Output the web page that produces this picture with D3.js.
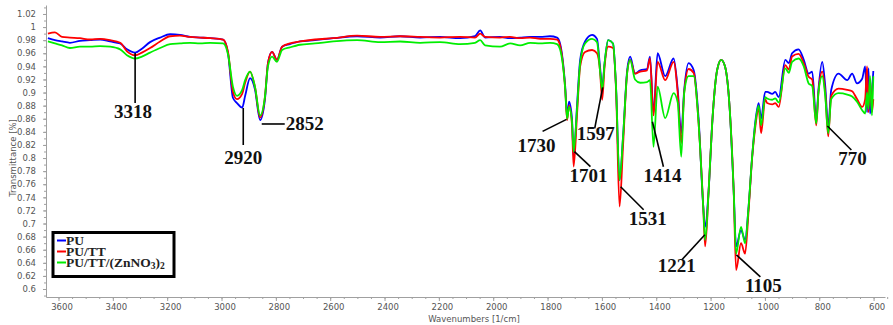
<!DOCTYPE html>
<html>
<head>
<meta charset="utf-8">
<script src="https://cdn.jsdelivr.net/npm/d3@7"></script>
<style>
  body { margin: 0; background: #fff; }
  svg { display: block; }
</style>
</head>
<body>
<svg id="chart" width="893" height="325"></svg>
<script>
// wavenumbers [1/cm] (shared by all three spectra)
const wavenumbers = [
  3639, 3613, 3587, 3558, 3521, 3484, 3447, 3410, 3373, 3348, 3318, 3293, 3263, 3226, 3189, 3153, 3116, 3079, 3042, 2994,
  2976, 2958, 2943, 2924, 2913, 2895, 2877, 2858, 2840, 2829, 2814, 2796, 2777, 2748, 2711, 2656, 2589, 2501, 2416, 2343,
  2269, 2196, 2122, 2067, 2048, 2030, 1975, 1938, 1901, 1864, 1827, 1791, 1765, 1754, 1735, 1728, 1721, 1710, 1704, 1691,
  1680, 1662, 1636, 1618, 1607, 1599, 1590, 1577, 1559, 1548, 1535, 1522, 1507, 1496, 1478, 1459, 1434, 1423, 1410, 1395,
  1367, 1336, 1321, 1308, 1297, 1281, 1262, 1244, 1227, 1220, 1207, 1194, 1176, 1161, 1147, 1130, 1115, 1106, 1088, 1073,
  1060, 1047, 1036, 1023, 1014, 999, 992, 973, 962, 949, 925, 912, 900, 876, 857, 839, 826, 811, 803, 789,
  778, 767, 756, 729, 697, 679, 661, 642, 631, 624, 619, 613, 606, 601
]

const puValues = [
  0.983, 0.980, 0.978, 0.976, 0.979, 0.980, 0.981, 0.978, 0.975, 0.966, 0.961, 0.967, 0.977, 0.984, 0.989, 0.988, 0.985, 0.984, 0.983, 0.981,
  0.960, 0.892, 0.884, 0.877, 0.895, 0.922, 0.905, 0.858, 0.890, 0.945, 0.962, 0.950, 0.970, 0.974, 0.978, 0.980, 0.983, 0.986, 0.984, 0.986,
  0.984, 0.985, 0.983, 0.986, 0.995, 0.984, 0.985, 0.983, 0.984, 0.985, 0.985, 0.986, 0.984, 0.975, 0.909, 0.865, 0.886, 0.860, 0.802, 0.884,
  0.950, 0.978, 0.988, 0.982, 0.940, 0.909, 0.945, 0.980, 0.975, 0.909, 0.766, 0.833, 0.934, 0.955, 0.929, 0.934, 0.936, 0.955, 0.869, 0.960,
  0.925, 0.952, 0.905, 0.838, 0.904, 0.945, 0.934, 0.860, 0.726, 0.695, 0.751, 0.853, 0.934, 0.950, 0.940, 0.878, 0.751, 0.665, 0.690, 0.675,
  0.726, 0.802, 0.853, 0.884, 0.860, 0.901, 0.901, 0.898, 0.901, 0.893, 0.950, 0.945, 0.960, 0.966, 0.950, 0.929, 0.932, 0.858, 0.904, 0.947,
  0.910, 0.848, 0.904, 0.929, 0.919, 0.929, 0.914, 0.921, 0.940, 0.870, 0.937, 0.868, 0.900, 0.933
]

const puTtValues = [
  0.990, 0.992, 0.985, 0.984, 0.983, 0.981, 0.982, 0.980, 0.976, 0.963, 0.957, 0.961, 0.968, 0.978, 0.986, 0.987, 0.985, 0.984, 0.983, 0.981,
  0.962, 0.901, 0.890, 0.898, 0.915, 0.932, 0.909, 0.862, 0.894, 0.945, 0.962, 0.950, 0.970, 0.975, 0.978, 0.981, 0.983, 0.987, 0.985, 0.986,
  0.985, 0.984, 0.985, 0.984, 0.990, 0.985, 0.984, 0.985, 0.983, 0.984, 0.982, 0.982, 0.981, 0.972, 0.905, 0.858, 0.880, 0.850, 0.787, 0.870,
  0.940, 0.962, 0.965, 0.960, 0.934, 0.889, 0.940, 0.970, 0.968, 0.905, 0.726, 0.820, 0.930, 0.950, 0.929, 0.932, 0.934, 0.952, 0.865, 0.947,
  0.919, 0.947, 0.900, 0.823, 0.900, 0.936, 0.930, 0.853, 0.726, 0.665, 0.751, 0.853, 0.934, 0.950, 0.940, 0.878, 0.751, 0.629, 0.670, 0.654,
  0.720, 0.800, 0.845, 0.875, 0.838, 0.890, 0.884, 0.882, 0.884, 0.878, 0.942, 0.935, 0.955, 0.959, 0.945, 0.924, 0.920, 0.850, 0.900, 0.932,
  0.900, 0.833, 0.895, 0.906, 0.904, 0.902, 0.890, 0.878, 0.890, 0.940, 0.870, 0.920, 0.870, 0.890
]

const puTtZnValues = [
  0.978, 0.975, 0.972, 0.968, 0.970, 0.970, 0.971, 0.970, 0.966, 0.957, 0.952, 0.955, 0.961, 0.968, 0.974, 0.975, 0.976, 0.975, 0.976, 0.975,
  0.958, 0.909, 0.895, 0.904, 0.919, 0.932, 0.909, 0.865, 0.894, 0.940, 0.955, 0.947, 0.965, 0.969, 0.973, 0.975, 0.978, 0.980, 0.977, 0.978,
  0.976, 0.977, 0.974, 0.976, 0.980, 0.972, 0.970, 0.975, 0.972, 0.976, 0.975, 0.976, 0.974, 0.966, 0.905, 0.860, 0.878, 0.855, 0.810, 0.878,
  0.945, 0.975, 0.982, 0.977, 0.934, 0.904, 0.945, 0.980, 0.975, 0.909, 0.766, 0.833, 0.930, 0.950, 0.920, 0.915, 0.916, 0.919, 0.817, 0.909,
  0.861, 0.899, 0.885, 0.802, 0.900, 0.925, 0.925, 0.853, 0.726, 0.675, 0.751, 0.853, 0.934, 0.950, 0.940, 0.878, 0.751, 0.654, 0.695, 0.670,
  0.726, 0.802, 0.850, 0.880, 0.850, 0.893, 0.891, 0.889, 0.891, 0.885, 0.937, 0.930, 0.947, 0.952, 0.940, 0.914, 0.910, 0.853, 0.900, 0.925,
  0.895, 0.838, 0.890, 0.899, 0.897, 0.894, 0.886, 0.873, 0.868, 0.900, 0.875, 0.925, 0.865, 0.925
]

const seriesNames = ['PU', 'PU/TT', 'PU/TT/(ZnNO3)2']
const seriesColors = ['#0000ff', '#ff0000', '#00ee00']

const xTicks = [3600, 3400, 3200, 3000, 2800, 2600, 2400, 2200, 2000, 1800, 1600, 1400, 1200, 1000, 800, 600]
const yTicks = [0.6, 0.62, 0.64, 0.66, 0.68, 0.7, 0.72, 0.74, 0.76, 0.78, 0.8, 0.82, 0.84, 0.86, 0.88, 0.9, 0.92, 0.94, 0.96, 0.98, 1, 1.02]

// marked peaks (wavenumber label, transmittance where the leader starts)
const peakLabels = ['3318', '2920', '2852', '1730', '1701', '1597', '1531', '1414', '1221', '1105', '770']
const peakAnchors = [0.9604, 0.8764, 0.852, 0.859, 0.8097, 0.908, 0.7562, 0.8555, 0.6828, 0.652, 0.849]

// leader offsets in px: [dx, dy, text dx, text dy, anchor]
const LEADERS = [
  [0, 50, -2, 15, 'middle'],
  [0, 37, 0, 19, 'middle'],
  [23, 0, 1, 6, 'start'],
  [-24, 12, -6, 21, 'middle'],
  [16, 15, -2, 15, 'middle'],
  [-8, 41, 1, 12, 'middle'],
  [23, 23, 4, 15, 'middle'],
  [11, 45, -1, 15, 'middle'],
  [-23, 25, -5, 12, 'middle'],
  [24, 22, 3, 15, 'middle'],
  [24, 24, 1, 15, 'middle']
]

const PLOT = { left: 46, right: 885, top: 5, bottom: 297 }

const svg = d3.select('#chart')

const xScale = d3.scaleLinear()
  .domain([3646, 558])
  .range([PLOT.left, PLOT.right])

const yScale = d3.scaleLinear()
  .domain([0.5878, 1.0337])
  .range([PLOT.bottom, PLOT.top])

// =================== Axes =================
const tickFont = 'DejaVu Sans, Verdana, sans-serif'

const xMinor = d3.range(3600, 549, -50)
svg.append('g')
  .attr('transform', `translate(0,${PLOT.bottom})`)
  .call(d3.axisBottom(xScale).tickValues(xMinor).tickSize(2).tickFormat(''))
  .call(g => g.select('.domain').remove())

const xAxis = svg.append('g')
  .attr('transform', `translate(0,${PLOT.bottom})`)
  .call(d3.axisBottom(xScale).tickValues(xTicks).tickSize(4).tickPadding(3).tickSizeOuter(0)
    .tickFormat(d3.format('d')))
xAxis.selectAll('text').attr('dx', 3)

const yMinor = d3.range(0.59, 1.031, 0.01)
svg.append('g')
  .attr('transform', `translate(${PLOT.left},0)`)
  .call(d3.axisLeft(yScale).tickValues(yMinor).tickSize(2).tickFormat(''))
  .call(g => g.select('.domain').remove())

svg.append('g')
  .attr('transform', `translate(${PLOT.left},0)`)
  .call(d3.axisLeft(yScale).tickValues(yTicks).tickSize(3).tickPadding(7).tickSizeOuter(0)
    .tickFormat(d => String(+d.toFixed(2))))

svg.selectAll('.domain, .tick line').attr('stroke', '#a0a0a0')
svg.selectAll('.tick text')
  .style('font-family', tickFont)
  .style('font-size', '8.5px')
  .attr('fill', '#555')

svg.append('text')
  .attr('x', 474)
  .attr('y', 322)
  .attr('text-anchor', 'middle')
  .style('font-family', tickFont)
  .style('font-size', '8.5px')
  .attr('fill', '#555')
  .text('Wavenumbers [1/cm]')

svg.append('text')
  .attr('transform', 'translate(16,158) rotate(-90)')
  .attr('text-anchor', 'middle')
  .style('font-family', tickFont)
  .style('font-size', '8.5px')
  .attr('fill', '#555')
  .text('Transmittance [%]')

// =================== Spectra =================
const line = d3.line()
  .x((d, i) => xScale(wavenumbers[i]))
  .y(d => yScale(d))
  .curve(d3.curveMonotoneX)

const allSeries = [puValues, puTtValues, puTtZnValues]
allSeries.forEach((values, idx) => {
  svg.append('path')
    .datum(values)
    .attr('fill', 'none')
    .attr('stroke', seriesColors[idx])
    .attr('stroke-width', 1.8)
    .attr('stroke-linejoin', 'round')
    .attr('d', line)
})

// =================== Peak labels =================
const peaks = svg.append('g')
peakLabels.forEach((label, i) => {
  const [dx, dy, tdx, tdy, anchor] = LEADERS[i]
  const x0 = xScale(+label)
  const y0 = yScale(peakAnchors[i])
  peaks.append('line')
    .attr('x1', x0).attr('y1', y0)
    .attr('x2', x0 + dx).attr('y2', y0 + dy)
    .attr('stroke', '#000')
    .attr('stroke-width', 1.6)
  peaks.append('text')
    .attr('x', x0 + dx + tdx)
    .attr('y', y0 + dy + tdy)
    .attr('text-anchor', anchor)
    .style('font-family', 'Liberation Serif, Times New Roman, serif')
    .style('font-weight', 'bold')
    .style('font-size', '19px')
    .attr('fill', '#111')
    .text(label)
})

// =================== Legend =================
const legend = svg.append('g').attr('transform', 'translate(53,232.5)')
legend.append('rect')
  .attr('width', 121)
  .attr('height', 44)
  .attr('fill', '#fff')
  .attr('stroke', '#000')
  .attr('stroke-width', 3)

seriesNames.forEach((name, i) => {
  const rowY = 8 + i * 11
  legend.append('line')
    .attr('x1', 4).attr('x2', 13)
    .attr('y1', rowY).attr('y2', rowY)
    .attr('stroke', seriesColors[i])
    .attr('stroke-width', 2)
  const t = legend.append('text')
    .attr('x', 13)
    .attr('y', rowY + 4.5)
    .style('font-family', 'Liberation Serif, Times New Roman, serif')
    .style('font-weight', 'bold')
    .style('font-size', '13.5px')
    .attr('fill', '#222')
  // subscript digits after "ZnNO" and ")"
  const parts = name.match(/^(.*ZnNO)(\d)(\))(\d)$/)
  if (parts) {
    t.append('tspan').text(parts[1])
    t.append('tspan').text(parts[2]).style('font-size', '9.5px').attr('dy', 2)
    t.append('tspan').text(parts[3]).attr('dy', -2)
    t.append('tspan').text(parts[4]).style('font-size', '9.5px').attr('dy', 2)
  } else {
    t.text(name)
  }
})
</script>
</body>
</html>
